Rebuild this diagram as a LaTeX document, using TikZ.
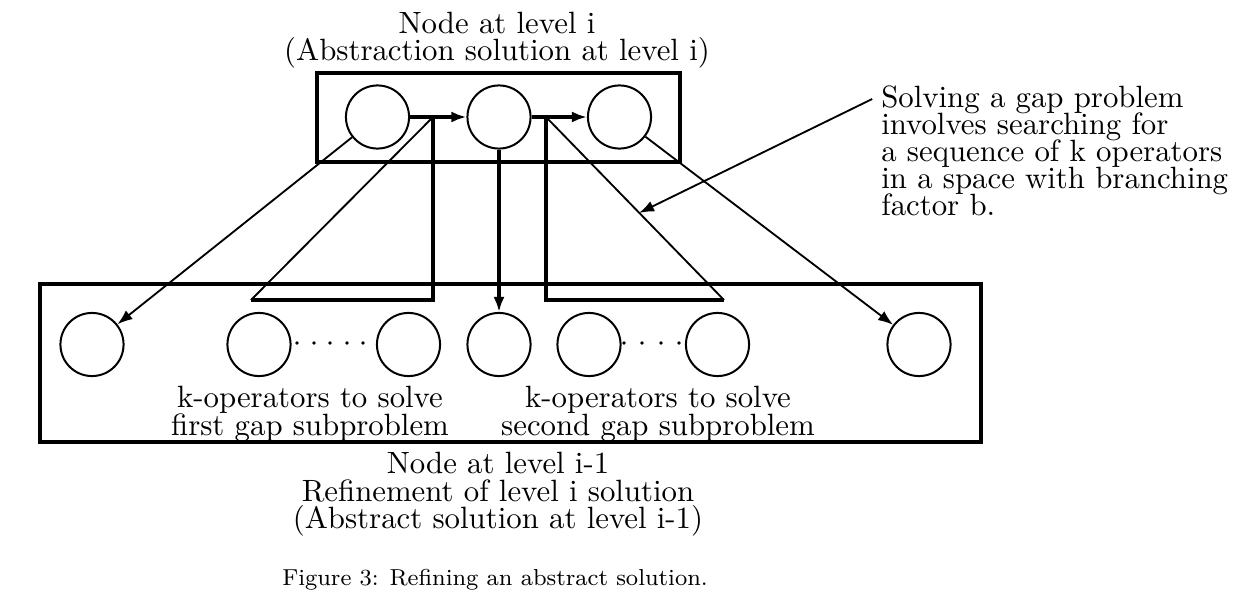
\documentclass[tikz,border=0pt]{standalone}
\usepackage{tikz}
\usetikzlibrary{arrows.meta}
\tikzstyle{solnode}=[circle, draw, inner sep=0pt, minimum size=20.5pt, line width=0.65pt]
\newcommand{\solnode}{\node[solnode]}
\tikzstyle{levelbox}=[rectangle, draw, inner sep=0pt, line width=1.3pt]
\tikzstyle{heavyline}=[line width=1.3pt]
\tikzstyle{lightline}=[line width=0.6pt]
\newcommand{\figfont}{\fontsize{10}{8.77}\selectfont\lineskiplimit=-20pt}
\tikzstyle{lbl}=[inner sep=0pt, align=center, font=\figfont]

\begin{document}
\begin{tikzpicture}[x=0.3247pt, y=-0.3247pt
    ,every edge/.style={draw, lightline}
    ,>={Latex[length=4.9pt,width=3.6pt]}
]
\useasboundingbox (0,0) rectangle (1254,601);
% level i
\node[levelbox, minimum width=117.9pt, minimum height=28.9pt] (upper) at (498.5,117.5) {};
\solnode (t1) at (377.5,117) {};
\solnode (t2) at (499,117) {};
\solnode (t3) at (619.5,117) {};
% level i-1
\node[levelbox, minimum width=305.5pt, minimum height=51.3pt] (lower) at (510.5,363) {};
\solnode (b1) at (92,344.5) {};
\solnode (b2) at (259,344.5) {};
\solnode (b3) at (408.5,344.5) {};
\solnode (b4) at (499,344.5) {};
\solnode (b5) at (589,344.5) {};
\solnode (b6) at (717.5,344.5) {};
\solnode (b7) at (919,344.5) {};
\foreach \x in {297,314,330,347,363} \fill (\x,343) circle[radius=0.6pt];
\foreach \x in {624,642,661,679} \fill (\x,343) circle[radius=0.6pt];
% gap subproblems
\coordinate (g1top) at (433,117);
\coordinate (g1foot) at (433,300);
\coordinate (g1tip) at (251,300);
\coordinate (g2top) at (546,117);
\coordinate (g2foot) at (546,300);
\coordinate (g2tip) at (724,300);
\coordinate (gaptip) at (639,213);
\path[->]
(t1) edge[heavyline] (t2)
(t2) edge[heavyline] (t3)
(t2) edge[heavyline] (b4)
(t1) edge (b1)
(t3) edge (b7)
;
\draw[heavyline] (g1top) -- (g1foot) -- (g1tip);
\draw[lightline] (g1tip) -- (g1top);
\draw[heavyline] (g2top) -- (g2foot) -- (g2tip);
\draw[lightline] (g2tip) -- (g2top);
% texts
\node[lbl, anchor=north] (toplabel) at (497,12) {Node at level i\\(Abstraction solution at level i)};
\node[lbl, anchor=north] (kop1) at (310,386) {k-operators to solve\\first gap subproblem};
\node[lbl, anchor=north] (kop2) at (658,386) {k-operators to solve\\second gap subproblem};
\node[lbl, anchor=north] (botlabel) at (498,452) {Node at level i-1\\Refinement of level i solution\\(Abstract solution at level i-1)};
\node[lbl, align=left, anchor=north west] (note) at (880.7,85.6) {Solving a gap problem\\involves searching for\\a sequence of k operators\\in a space with branching\\factor b.};
\coordinate (notefoot) at ([shift={(-8.5,13.4)}]note.north west);
\draw[lightline,->] (notefoot) -- (gaptip);
\node[font=\fontsize{7.5}{9}\selectfont, anchor=base] (caption) at (495,585) {Figure 3: Refining an abstract solution.};
\end{tikzpicture}
\end{document}
